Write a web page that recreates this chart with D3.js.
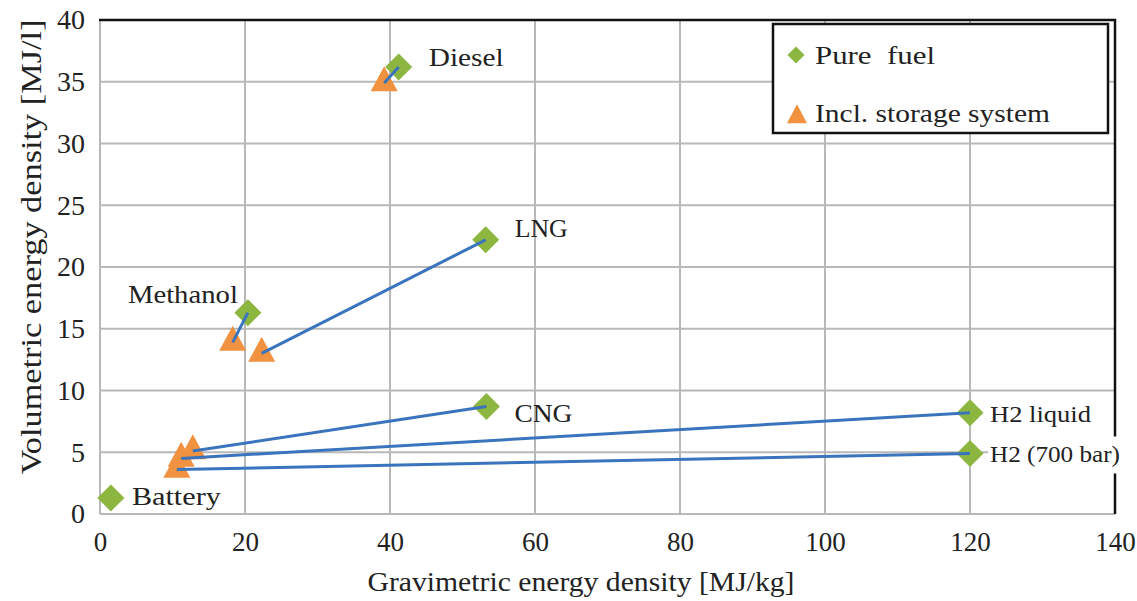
<!DOCTYPE html>
<html><head><meta charset="utf-8">
<script src="https://cdn.jsdelivr.net/npm/d3@7"></script>
<style>body{margin:0;background:#fff;overflow:hidden}text{font-family:"Liberation Serif","Times New Roman",serif;fill:#222}</style>
</head><body><svg id="c" width="1137" height="601"></svg>
<script>
// ---- data ----
const fuels = ["Diesel", "LNG", "Methanol", "CNG", "H2 liquid", "H2 (700 bar)", "Battery"];
const pureGrav = [41.2, 53.2, 20.4, 53.3, 120, 120, 1.5];
const pureVol  = [36.2, 22.2, 16.3, 8.7, 8.2, 4.9, 1.3];
const storGrav = [39.2, 22.3, 18.3, 12.8, 11.2, 10.6, null];
const storVol  = [34.9, 13.0, 13.9, 5.1, 4.5, 3.6, null];
const xTicks = [0, 20, 40, 60, 80, 100, 120, 140];
const yTicks = [0, 5, 10, 15, 20, 25, 30, 35, 40];
const seriesNames = ["Pure  fuel", "Incl. storage system"];
const xTitle = "Gravimetric energy density [MJ/kg]";
const yTitle = "Volumetric energy density [MJ/l]";

// ---- style / layout ----
const GREEN = "#8db640", ORANGE = "#f0923f", BLUE = "#3a74bd", GRID = "#b8b8b8";
const L = 100, R = 1115, T = 20, B = 514;
const labelStyle = {
  "Diesel":       {dx: 30, dy: -1, anchor: "start", len: 75, fs: 26},
  "LNG":          {dx: 29, dy: -3, anchor: "start", len: 53, fs: 26},
  "Methanol":     {dx: -10, dy: -10, anchor: "end", len: 110, fs: 26},
  "CNG":          {dx: 28, dy: 15, anchor: "start", len: 58, fs: 26},
  "H2 liquid":    {dx: 20, dy: 9, anchor: "start", len: 101, fs: 23},
  "H2 (700 bar)": {dx: 20, dy: 9, anchor: "start", len: 130, fs: 23, bg: true},
  "Battery":      {dx: 21, dy: 7, anchor: "start", len: 89, fs: 26}
};

const svg = d3.select("#c");
const x = d3.scaleLinear().domain([xTicks[0], xTicks[xTicks.length - 1]]).range([L, R]);
const y = d3.scaleLinear().domain([yTicks[0], yTicks[yTicks.length - 1]]).range([B, T]);

// grid
const g = svg.append("g");
g.selectAll("line.vx").data(xTicks).join("line")
  .attr("x1", d => x(d)).attr("x2", d => x(d)).attr("y1", T).attr("y2", B)
  .attr("stroke", GRID).attr("stroke-width", 2);
g.selectAll("line.hy").data(yTicks).join("line")
  .attr("x1", L).attr("x2", R).attr("y1", d => y(d)).attr("y2", d => y(d))
  .attr("stroke", GRID).attr("stroke-width", 2);
// frame: top & right dark
svg.append("path").attr("d", `M${L - 1},${T} H${R} V${B}`).attr("fill", "none")
  .attr("stroke", "#111").attr("stroke-width", 2.5);

// axes tick labels via d3 axes
const xAxis = svg.append("g").attr("transform", `translate(0,${B})`)
  .call(d3.axisBottom(x).tickValues(xTicks).tickSize(0).tickPadding(18));
xAxis.select(".domain").remove();
xAxis.selectAll("text").attr("font-size", 27).style("font-family", '"Liberation Serif",serif').attr("fill", "#222");
const yAxis = svg.append("g").attr("transform", `translate(${L},0)`)
  .call(d3.axisLeft(y).tickValues(yTicks).tickSize(0).tickPadding(15));
yAxis.select(".domain").remove();
yAxis.selectAll("text").attr("font-size", 28).style("font-family", '"Liberation Serif",serif').attr("fill", "#222");

// axis titles
svg.append("text").attr("x", 581).attr("y", 591).attr("text-anchor", "middle")
  .attr("font-size", 27).attr("textLength", 427).attr("lengthAdjust", "spacingAndGlyphs").text(xTitle);
svg.append("text").attr("transform", "translate(41,247) rotate(-90)").attr("text-anchor", "middle")
  .attr("font-size", 30).attr("textLength", 455).attr("lengthAdjust", "spacingAndGlyphs").text(yTitle);

const rows = fuels.map((f, i) => ({f, px: pureGrav[i], py: pureVol[i], sx: storGrav[i], sy: storVol[i]}));
const stor = rows.filter(r => r.sx != null);

const tri = (w, h) => `M0,${-2 * h / 3} L${w / 2},${h / 3} L${-w / 2},${h / 3} Z`;
const dia = s => `M0,${-s} L${s},0 L0,${s} L${-s},0 Z`;

// storage triangles
svg.append("g").selectAll("path").data(stor).join("path")
  .attr("d", tri(27, 25)).attr("fill", ORANGE)
  .attr("transform", d => `translate(${x(d.sx)},${y(d.sy)})`);
// pure diamonds
svg.append("g").selectAll("path").data(rows).join("path")
  .attr("d", dia(13.5)).attr("fill", GREEN)
  .attr("transform", d => `translate(${x(d.px)},${y(d.py)})`);
// connecting lines
svg.append("g").selectAll("line").data(stor).join("line")
  .attr("x1", d => x(d.sx)).attr("y1", d => y(d.sy)).attr("x2", d => x(d.px)).attr("y2", d => y(d.py))
  .attr("stroke", BLUE).attr("stroke-width", 3);

// point labels
const lg = svg.append("g");
rows.forEach(r => {
  const s = labelStyle[r.f];
  const t = lg.append("text").attr("x", x(r.px) + s.dx).attr("y", y(r.py) + s.dy)
    .attr("text-anchor", s.anchor).attr("font-size", s.fs)
    .attr("textLength", s.len).attr("lengthAdjust", "spacingAndGlyphs").text(r.f);
  if (s.bg) {
    const b = t.node().getBBox();
    lg.insert("rect", () => t.node()).attr("x", b.x - 2).attr("y", b.y - 6)
      .attr("width", b.width + 4).attr("height", b.height + 12).attr("fill", "#fff");
  }
});

// legend
const leg = svg.append("g");
leg.append("rect").attr("x", 773).attr("y", 24).attr("width", 335).attr("height", 109)
  .attr("fill", "#fff").attr("stroke", "#111").attr("stroke-width", 2.5);
leg.append("path").attr("d", dia(8.5)).attr("fill", GREEN).attr("transform", "translate(796,55)");
leg.append("path").attr("d", tri(20, 19)).attr("fill", ORANGE).attr("transform", "translate(797,117)");
leg.append("text").attr("x", 815).attr("y", 64).attr("font-size", 26).style("white-space", "pre")
  .attr("textLength", 120).attr("lengthAdjust", "spacingAndGlyphs").text(seriesNames[0]);
leg.append("text").attr("x", 815).attr("y", 122).attr("font-size", 26)
  .attr("textLength", 235).attr("lengthAdjust", "spacingAndGlyphs").text(seriesNames[1]);
</script></body></html>
